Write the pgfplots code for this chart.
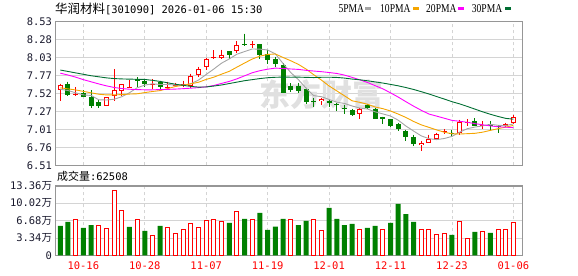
\documentclass[border=0pt]{standalone}
\usepackage{pgfplots}
\pgfplotsset{compat=1.18}
\usepackage{pgfplotstable}
\usepackage{fontspec}
\setmainfont{DejaVu Sans Mono}
\newfontfamily\cjk{Noto Sans CJK SC}
\newfontfamily\legfont[FakeStretch=0.8]{Liberation Serif}
\newfontfamily\numfont{DejaVu Sans Mono}

\definecolor{kred}{RGB}{255,0,0}
\definecolor{kgreen}{RGB}{0,128,0}
\definecolor{cma5}{RGB}{165,165,165}
\definecolor{cma10}{RGB}{245,165,0}
\definecolor{cma20}{RGB}{255,0,255}
\definecolor{cma30}{RGB}{0,110,50}
\definecolor{gridc}{RGB}{212,212,212}
\definecolor{framec}{RGB}{150,150,150}
\definecolor{labc}{RGB}{25,25,45}

% up (close >= open) candles: index open high low close
\pgfplotstableread{
i o h l c
0 7.567 7.660 7.410 7.641
2 7.505 7.609 7.484 7.517
6 7.345 7.470 7.345 7.470
7 7.479 7.863 7.419 7.572
8 7.562 7.650 7.479 7.650
9 7.604 7.706 7.604 7.616
12 7.648 7.720 7.590 7.660
14 7.603 7.687 7.576 7.615
15 7.625 7.670 7.610 7.645
16 7.640 7.700 7.610 7.655
17 7.632 7.798 7.604 7.766
18 7.780 7.896 7.752 7.863
19 7.886 8.020 7.849 8.011
20 8.018 8.127 8.007 8.032
21 8.021 8.132 8.007 8.067
23 8.123 8.257 8.090 8.197
25 8.198 8.252 8.164 8.212
34 7.410 7.450 7.354 7.447
39 7.234 7.310 7.164 7.308
47 6.789 6.854 6.706 6.822
48 6.826 6.942 6.817 6.873
49 6.877 6.970 6.877 6.947
50 6.975 7.016 6.956 6.988
52 6.961 7.150 6.937 7.118
53 7.108 7.160 7.062 7.120
55 7.062 7.127 7.016 7.074
58 7.058 7.109 7.048 7.095
59 7.104 7.220 7.095 7.187
}\up

% down candles
\pgfplotstableread{
i o h l c
1 7.650 7.687 7.479 7.493
3 7.521 7.567 7.470 7.474
4 7.474 7.567 7.312 7.340
5 7.400 7.423 7.312 7.340
10 7.724 7.752 7.618 7.692
11 7.692 7.720 7.613 7.660
13 7.683 7.700 7.576 7.609
22 8.113 8.113 8.007 8.058
24 8.210 8.363 8.195 8.196
26 8.210 8.210 8.007 8.058
27 8.081 8.132 7.937 7.998
28 8.002 8.035 7.896 7.928
29 7.924 7.942 7.521 7.521
30 7.627 7.664 7.548 7.576
31 7.632 7.669 7.525 7.553
32 7.586 7.604 7.377 7.400
33 7.412 7.451 7.331 7.398
35 7.419 7.433 7.336 7.382
36 7.375 7.382 7.271 7.362
37 7.318 7.359 7.238 7.306
38 7.289 7.308 7.197 7.215
40 7.354 7.373 7.303 7.312
41 7.303 7.320 7.164 7.164
42 7.192 7.195 7.090 7.164
43 7.155 7.164 7.053 7.067
44 7.086 7.109 6.993 7.016
45 6.993 7.011 6.854 6.905
46 6.905 6.937 6.785 6.808
51 6.962 7.000 6.928 6.950
54 7.136 7.169 7.062 7.062
56 7.085 7.127 7.002 7.058
57 7.060 7.071 6.970 7.050
}\down

% moving averages
\pgfplotstableread{
i m5 m10 m20 m30
0 7.580 7.600 7.806 7.850
1 7.562 7.585 7.780 7.830
2 7.530 7.570 7.750 7.810
3 7.500 7.550 7.715 7.790
4 7.493 7.530 7.685 7.770
5 7.432 7.510 7.655 7.755
6 7.428 7.500 7.628 7.740
7 7.439 7.500 7.605 7.730
8 7.474 7.505 7.590 7.725
9 7.530 7.512 7.580 7.722
10 7.600 7.516 7.575 7.720
11 7.638 7.533 7.572 7.718
12 7.656 7.548 7.572 7.705
13 7.647 7.561 7.575 7.690
14 7.647 7.589 7.578 7.670
15 7.638 7.619 7.582 7.650
16 7.637 7.636 7.588 7.635
17 7.658 7.656 7.595 7.620
18 7.709 7.678 7.603 7.610
19 7.788 7.718 7.614 7.612
20 7.865 7.750 7.633 7.625
21 7.947 7.792 7.662 7.640
22 8.006 7.832 7.690 7.660
23 8.073 7.891 7.726 7.680
24 8.110 7.949 7.769 7.700
25 8.146 8.005 7.812 7.715
26 8.144 8.046 7.841 7.730
27 8.132 8.069 7.862 7.742
28 8.078 8.076 7.877 7.748
29 7.943 8.027 7.872 7.751
30 7.816 7.981 7.865 7.749
31 7.715 7.930 7.859 7.750
32 7.596 7.864 7.846 7.747
33 7.490 7.784 7.836 7.744
34 7.475 7.709 7.827 7.748
35 7.436 7.626 7.815 7.749
36 7.398 7.557 7.802 7.746
37 7.380 7.488 7.779 7.737
38 7.344 7.417 7.747 7.723
39 7.316 7.396 7.712 7.713
40 7.302 7.369 7.675 7.699
41 7.262 7.330 7.630 7.683
42 7.233 7.307 7.586 7.667
43 7.203 7.274 7.529 7.648
44 7.145 7.231 7.470 7.628
45 7.063 7.183 7.405 7.604
46 6.992 7.127 7.342 7.577
47 6.924 7.079 7.284 7.546
48 6.885 7.044 7.231 7.513
49 6.871 7.008 7.202 7.477
50 6.887 6.975 7.172 7.442
51 6.916 6.954 7.142 7.405
52 6.976 6.950 7.129 7.374
53 7.025 6.955 7.115 7.338
54 7.048 6.960 7.096 7.300
55 7.065 6.976 7.080 7.262
56 7.086 7.001 7.064 7.228
57 7.073 7.025 7.052 7.197
58 7.068 7.047 7.046 7.170
59 7.093 7.071 7.040 7.159
}\ma

% volume (10k shares), red = up day, green = down day
\pgfplotstableread{
i v
2 6.81
5 5.78
6 5.20
7 12.40
8 8.73
10 6.94
12 3.73
14 5.40
15 4.24
16 4.88
17 6.04
18 5.40
19 6.62
20 6.94
21 6.42
23 8.35
25 6.81
30 6.94
33 6.94
34 4.69
39 4.88
42 4.88
47 5.07
48 5.07
49 3.92
50 4.11
52 6.42
53 3.15
55 4.50
57 5.07
58 4.88
59 6.25
}\volr

\pgfplotstableread{
i v
0 5.65
1 6.42
3 5.27
4 5.84
9 5.46
11 4.69
13 5.65
22 6.23
24 7.00
26 8.16
27 4.88
28 5.52
29 7.00
31 5.84
32 6.62
35 9.12
36 7.00
37 5.84
38 6.04
40 5.27
41 5.65
43 6.23
44 9.89
45 7.96
46 6.42
51 3.92
54 4.50
56 4.30
}\volg

\pgfplotsset{
  kstyle/.style={
    scale only axis, width=466.8bp, anchor=south west,
    xmin=-0.625, xmax=60.16,
    axis line style={draw=framec, line width=1.2bp},
    major tick length=0pt,
    xtick={3,11,19,27,35,43,51,59},
    xmajorgrids, ymajorgrids,
    x grid style={gridc, dash pattern=on 3bp off 3bp, line width=0.8bp},
    y grid style={gridc, line width=0.8bp},
    tick label style={font=\numfont\fontsize{10.5}{12}\selectfont, text=labc},
  },
  ebar/.style 2 args={only marks, mark=*, mark size=0pt, mark options={draw=none, fill=none},
    error bars/.cd, y dir=minus, y explicit, error mark=none,
    error bar style={draw=#1, line width=#2, line cap=butt}},
}

\begin{document}
\begin{tikzpicture}
\path[use as bounding box] (0bp,0bp) rectangle (578bp,276bp);

% ---------- price pane ----------
\begin{axis}[kstyle, at={(55.5bp,110.7bp)}, height=143.6bp,
  ymin=6.51, ymax=8.53,
  ytick={6.51,6.7625,7.015,7.2675,7.52,7.7725,8.025,8.2775,8.53},
  yticklabels={6.51,6.76,7.01,7.27,7.52,7.77,8.03,8.28,8.53},
  xticklabels={}]
\node[text=black!12, font=\cjk\bfseries\fontsize{31}{31}\selectfont] at (axis cs:34,7.50) {东方财富};
% wicks
\addplot[ebar={kred}{1bp}]
  table[x=i, y=h, y error minus expr=\thisrow{h}-\thisrow{l}] {\up};
\addplot[ebar={kgreen}{1bp}]
  table[x=i, y=h, y error minus expr=\thisrow{h}-\thisrow{l}] {\down};
% bodies
\addplot[ebar={kgreen}{5bp}]
  table[x=i, y=o, y error minus expr=\thisrow{o}-\thisrow{c}] {\down};
\addplot[ebar={kred}{5bp}]
  table[x=i, y=c, y error minus expr=\thisrow{c}-\thisrow{o}] {\up};
\addplot[ebar={white}{3bp}]
  table[x=i, y expr=\thisrow{c}-0.014, y error minus expr={max(\thisrow{c}-\thisrow{o}-0.028,0)}] {\up};
% moving averages
\addplot[cma5, line width=0.9bp, mark=none] table[x=i, y=m5] {\ma};
\addplot[cma10, line width=0.9bp, mark=none] table[x=i, y=m10] {\ma};
\addplot[cma20, line width=0.9bp, mark=none] table[x=i, y=m20] {\ma};
\addplot[cma30, line width=0.9bp, mark=none] table[x=i, y=m30] {\ma};
\end{axis}

% ---------- volume pane ----------
\begin{axis}[kstyle, at={(55.5bp,20.7bp)}, height=69.3bp,
  ymin=0, ymax=13.36,
  ytick={0,3.34,6.68,10.02,13.36},
  yticklabels={0,3.34{\cjk 万},6.68{\cjk 万},10.02{\cjk 万},13.36{\cjk 万}},
  xticklabels={10-16,10-28,11-07,11-19,12-01,12-11,12-23,01-06},
  xticklabel style={text=kred, anchor=center, yshift=-10.4bp}]
\addplot[ybar, bar width=5bp, bar shift=0pt, fill=kgreen, draw=none] table[x=i, y=v] {\volg};
\addplot[ybar, bar width=4bp, bar shift=0pt, fill=white, draw=kred, line width=1bp] table[x=i, y=v] {\volr};
\end{axis}

% ---------- texts ----------
\node[anchor=west, inner sep=0pt] at (55bp,267.5bp)
  {{\cjk\fontsize{12.5}{13}\selectfont 华润材料}{\numfont\fontsize{10.5}{12}\selectfont[301090] 2026-01-06 15:30}};
\node[anchor=west, inner sep=0pt] at (57bp,99.3bp)
  {{\cjk\fontsize{11}{12}\selectfont 成交量}{\numfont\fontsize{10.5}{12}\selectfont:62508}};

\node[anchor=west, inner sep=0pt, font=\legfont\fontsize{12}{12}\selectfont] at (338.3bp,267.5bp) {5PMA};
\fill[cma5] (365bp,266bp) rectangle (370.7bp,269.3bp);
\node[anchor=west, inner sep=0pt, font=\legfont\fontsize{12}{12}\selectfont] at (380bp,267.5bp) {10PMA};
\fill[cma10] (413.3bp,266bp) rectangle (418.7bp,269.3bp);
\node[anchor=west, inner sep=0pt, font=\legfont\fontsize{12}{12}\selectfont] at (426bp,267.5bp) {20PMA};
\fill[cma20] (458.3bp,266bp) rectangle (464bp,269.3bp);
\node[anchor=west, inner sep=0pt, font=\legfont\fontsize{12}{12}\selectfont] at (471.7bp,267.5bp) {30PMA};
\fill[cma30] (505bp,266bp) rectangle (510.5bp,269.3bp);
\end{tikzpicture}
\end{document}
